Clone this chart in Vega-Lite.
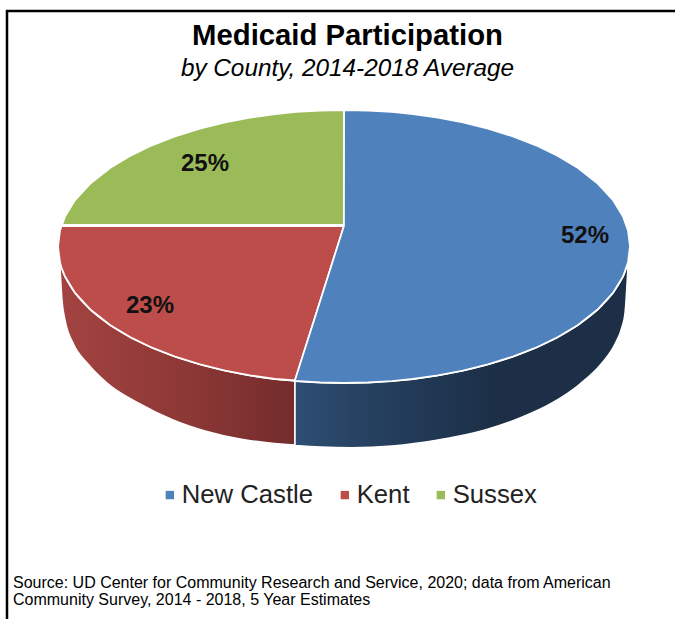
{"$schema":"https://vega.github.io/schema/vega-lite/v6.json","width":675,"height":619,"padding":0,"autosize":"none","background":"white","view":{"stroke":null},
"title":{"text":"Medicaid Participation","subtitle":"by County, 2014-2018 Average","anchor":"middle","dx":10,"offset":-81,"font":"Liberation Sans","fontSize":29.3,"fontWeight":"bold","color":"#000","subtitleFont":"Liberation Sans","subtitleFontSize":24.3,"subtitleFontStyle":"italic","subtitleColor":"#000","subtitlePadding":5},
"datasets":{
"top":[
{"county":"Sussex","x":62,"y":225,"y2":225},{"county":"Sussex","x":65,"y":216.5,"y2":225},{"county":"Sussex","x":75,"y":200.1,"y2":225},{"county":"Sussex","x":90,"y":183.8,"y2":225},{"county":"Sussex","x":110,"y":168,"y2":225},{"county":"Sussex","x":130,"y":155.9,"y2":225},{"county":"Sussex","x":150,"y":146.2,"y2":225},{"county":"Sussex","x":175,"y":136.4,"y2":225},{"county":"Sussex","x":200,"y":128.6,"y2":225},{"county":"Sussex","x":225,"y":122.4,"y2":225},{"county":"Sussex","x":250,"y":117.6,"y2":225},{"county":"Sussex","x":275,"y":114,"y2":225},{"county":"Sussex","x":296,"y":111.9,"y2":225},{"county":"Sussex","x":320,"y":110.5,"y2":225},{"county":"Sussex","x":344,"y":110,"y2":225},
{"county":"Kent","x":58,"y":246.5,"y2":246.5},{"county":"Kent","x":60,"y":230.4,"y2":262.6},{"county":"Kent","x":61.6,"y":226,"y2":268},{"county":"Kent","x":65,"y":226,"y2":276.5},{"county":"Kent","x":75,"y":226,"y2":292.9},{"county":"Kent","x":90,"y":226,"y2":309.2},{"county":"Kent","x":110,"y":226,"y2":325},{"county":"Kent","x":130,"y":226,"y2":337.1},{"county":"Kent","x":150,"y":226,"y2":346.8},{"county":"Kent","x":175,"y":226,"y2":356.6},{"county":"Kent","x":200,"y":226,"y2":364.4},{"county":"Kent","x":225,"y":226,"y2":370.6},{"county":"Kent","x":250,"y":226,"y2":375.4},{"county":"Kent","x":275,"y":226,"y2":379},{"county":"Kent","x":295,"y":226,"y2":380.5},{"county":"Kent","x":344,"y":226,"y2":226},
{"county":"New Castle","x":295,"y":380,"y2":381},{"county":"New Castle","x":320,"y":301.4,"y2":382.5},{"county":"New Castle","x":343.9,"y":226,"y2":383},{"county":"New Castle","x":344.1,"y":110,"y2":383},{"county":"New Castle","x":368,"y":110.5,"y2":382.5},{"county":"New Castle","x":392,"y":111.9,"y2":381.1},{"county":"New Castle","x":413,"y":114,"y2":379},{"county":"New Castle","x":438,"y":117.6,"y2":375.4},{"county":"New Castle","x":463,"y":122.4,"y2":370.6},{"county":"New Castle","x":488,"y":128.6,"y2":364.4},{"county":"New Castle","x":513,"y":136.4,"y2":356.6},{"county":"New Castle","x":538,"y":146.2,"y2":346.8},{"county":"New Castle","x":558,"y":155.9,"y2":337.1},{"county":"New Castle","x":578,"y":168,"y2":325},{"county":"New Castle","x":598,"y":183.8,"y2":309.2},{"county":"New Castle","x":613,"y":200.1,"y2":292.9},{"county":"New Castle","x":623,"y":216.5,"y2":276.5},{"county":"New Castle","x":628,"y":230.4,"y2":262.6},{"county":"New Castle","x":630,"y":246.5,"y2":246.5}],
"sideKent":[{"x":60,"y":263,"y2":267},{"x":62,"y":269.2,"y2":300},{"x":65,"y":276.5,"y2":320},{"x":73,"y":290.1,"y2":343},{"x":88,"y":307.4,"y2":364},{"x":107,"y":322.9,"y2":383},{"x":140,"y":342.2,"y2":404},{"x":173,"y":355.9,"y2":420},{"x":205,"y":365.8,"y2":431},{"x":240,"y":373.7,"y2":439},{"x":270,"y":378.4,"y2":443},{"x":295,"y":381,"y2":445}],
"sideNewCastle":[{"x":295,"y":381,"y2":445.5},{"x":320,"y":382.5,"y2":447},{"x":352,"y":383,"y2":447.7},{"x":392,"y":381.1,"y2":446},{"x":438,"y":375.4,"y2":440},{"x":485,"y":365.3,"y2":430},{"x":520,"y":354.1,"y2":418},{"x":552,"y":340.2,"y2":403},{"x":580,"y":323.6,"y2":384},{"x":602,"y":305.4,"y2":363},{"x":615,"y":290.1,"y2":344},{"x":622,"y":278.5,"y2":327},{"x":625,"y":271.9,"y2":313},{"x":628,"y":262,"y2":266}],
"shares":[{"county":"New Castle","share":0.52,"x":585,"y":236},{"county":"Kent","share":0.23,"x":150,"y":306},{"county":"Sussex","share":0.25,"x":205,"y":164}],
"frameTop":[{"x":6,"x2":675,"y":11}],
"frameLeft":[{"x":7,"y":10,"y2":619}],
"source":[{"x":13,"y":575}]
},
"encoding":{"x":{"field":"x","type":"quantitative","scale":{"domain":[0,675],"nice":false,"zero":false},"axis":null},"y":{"field":"y","type":"quantitative","scale":{"domain":[619,0],"nice":false,"zero":false},"axis":null}},
"layer":[
{"data":{"name":"sideKent"},"mark":{"type":"area","interpolate":"monotone","stroke":"white","strokeWidth":1.5,"fill":{"gradient":"linear","x1":0,"x2":1,"y1":0,"y2":0,"stops":[{"offset":0,"color":"#A34341"},{"offset":0.5,"color":"#8E3937"},{"offset":1,"color":"#742C2C"}]}},
"encoding":{"y2":{"field":"y2"}}},
{"data":{"name":"sideNewCastle"},"mark":{"type":"area","interpolate":"monotone","stroke":"white","strokeWidth":1.5,"fill":{"gradient":"linear","x1":0,"x2":1,"y1":0,"y2":0,"stops":[{"offset":0,"color":"#2E4E74"},{"offset":0.25,"color":"#253F5E"},{"offset":0.6,"color":"#1C2F47"},{"offset":1,"color":"#1C2F47"}]}},
"encoding":{"y2":{"field":"y2"}}},
{"data":{"name":"top"},"mark":{"type":"area","stroke":"white","strokeWidth":1.8,"strokeJoin":"round"},
"encoding":{"y":{"field":"y","type":"quantitative","stack":null},"y2":{"field":"y2"},
"color":{"field":"county","type":"nominal","sort":["New Castle","Kent","Sussex"],"scale":{"domain":["New Castle","Kent","Sussex"],"range":["#4F81BD","#BD4D4A","#9BBB59"]},
"legend":{"orient":"none","legendX":157,"legendY":482,"direction":"horizontal","columns":3,"title":null,"symbolType":"square","symbolSize":70,"symbolStrokeWidth":0,"labelFont":"Liberation Sans","labelFontSize":25.7,"labelColor":"#222","labelOffset":-1,"columnPadding":18,"symbolOffset":0}}}},
{"data":{"name":"shares"},"mark":{"type":"text","font":"Liberation Sans","fontSize":24,"fontWeight":"bold","color":"#111","align":"center","baseline":"middle"},
"encoding":{"text":{"field":"share","type":"quantitative","format":".0%"}}},
{"data":{"name":"source"},"mark":{"type":"text","text":["Source: UD Center for Community Research and Service, 2020; data from American","Community Survey, 2014 - 2018, 5 Year Estimates"],"lineHeight":17,"font":"Liberation Sans","fontSize":16,"color":"#000","align":"left","baseline":"top"}},
{"data":{"name":"frameTop"},"mark":{"type":"rule","color":"#000","strokeWidth":2.5},"encoding":{"x2":{"field":"x2"}}},
{"data":{"name":"frameLeft"},"mark":{"type":"rule","color":"#000","strokeWidth":2.5},"encoding":{"y2":{"field":"y2"}}}
]}
